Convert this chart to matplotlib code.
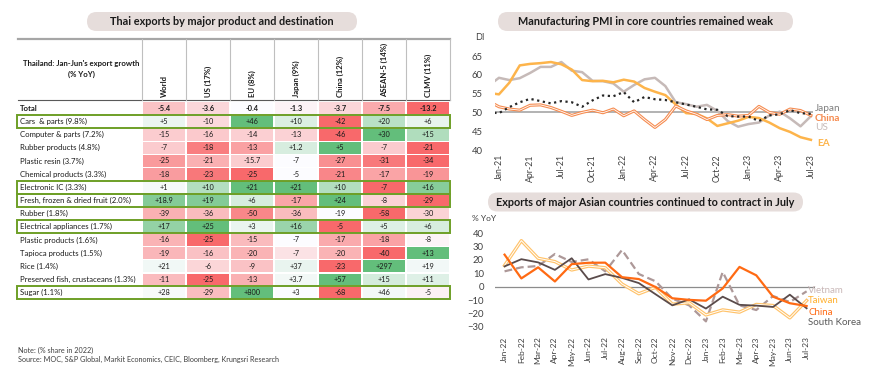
import numpy as np
import pandas as pd
import matplotlib
matplotlib.use("Agg")
import matplotlib.pyplot as plt
from matplotlib.patches import FancyBboxPatch, Rectangle

plt.rcParams['font.family'] = ['Lato', 'DejaVu Sans']

W, H = 870, 379

# ---------------- data: Thai exports table ----------------
markets = ["World", "US (17%)", "EU (8%)", "Japan (9%)", "China (12%)", "ASEAN-5 (14%)", "CLMV (11%)"]
products = ["Total", "Cars  & parts (9.8%)", "Computer & parts (7.2%)", "Rubber products (4.8%)",
            "Plastic resin (3.7%)", "Chemical products (3.3%)", "Electronic IC (3.3%)",
            "Fresh, frozen & dried fruit (2.0%)", "Rubber (1.8%)", "Electrical appliances (1.7%)",
            "Plastic products (1.6%)", "Tapioca products (1.5%)", "Rice (1.4%)",
            "Preserved fish, crustaceans (1.3%)", "Sugar (1.1%)"]
growth = [
    [-5.4, -3.6, -0.4, -1.3, -3.7, -7.5, -13.2],
    [5, -10, 46, 10, -42, 20, 6],
    [-15, -16, -14, -13, -46, 30, 15],
    [-7, -18, -13, 1.2, 5, -7, -21],
    [-25, -21, -15.7, -7, -27, -31, -34],
    [-18, -23, -25, -5, -21, -17, -19],
    [1, 10, 21, 21, 10, -7, 16],
    [18.9, 19, 6, -17, 24, -8, -29],
    [-39, -36, -50, -36, -19, -58, -30],
    [17, 25, 3, 16, -5, 5, 6],
    [-16, -25, -15, -7, -17, -18, -8],
    [-19, -16, -20, -7, -20, -40, 13],
    [21, -6, -9, 37, -23, 297, 19],
    [-11, -25, -13, 3.7, 57, 15, 11],
    [28, -29, 800, 3, -68, 46, -5],
]
boxed = ["Cars  & parts (9.8%)", "Electronic IC (3.3%)", "Fresh, frozen & dried fruit (2.0%)",
         "Electrical appliances (1.7%)", "Sugar (1.1%)"]

# ---------------- data: PMI (Dec-20 .. Jul-23) ----------------
pmi_months = pd.date_range("2020-12-01", "2023-07-01", freq="MS").strftime("%b-%y").tolist()
pmi_us = [57.1, 59.2, 58.6, 59.1, 60.5, 62.1, 62.1, 63.4, 61.1, 60.7, 58.4, 58.3, 57.7,
          55.5, 57.3, 58.8, 59.2, 57.0, 52.7, 52.2, 51.5, 52.0, 50.4, 47.7, 46.2,
          46.9, 47.3, 49.2, 50.2, 48.4, 46.3, 49.0]
pmi_ea = [55.2, 54.8, 57.9, 62.5, 62.9, 63.1, 63.4, 62.8, 61.4, 58.6, 58.3, 58.4, 58.0,
          58.7, 58.2, 56.5, 55.5, 54.6, 52.1, 49.8, 49.6, 48.4, 46.4, 47.1, 47.8,
          48.8, 48.5, 47.3, 45.8, 44.8, 43.4, 42.7]
pmi_china = [53.0, 51.5, 50.9, 50.6, 51.9, 52.0, 51.3, 50.3, 49.2, 50.0, 50.6, 49.9, 50.9,
             49.1, 50.4, 48.1, 46.0, 48.1, 51.7, 50.4, 49.5, 48.1, 49.2, 49.4, 49.0,
             49.2, 51.6, 50.0, 49.5, 50.9, 50.5, 49.2]
pmi_japan = [50.0, 49.8, 51.4, 52.7, 53.6, 53.0, 52.4, 53.0, 52.7, 51.5, 53.2, 54.5, 54.3,
             55.4, 52.7, 54.1, 53.5, 53.3, 52.7, 52.1, 51.5, 50.8, 50.7, 49.0, 48.9,
             48.9, 47.7, 49.2, 49.5, 50.6, 49.8, 49.6]
pmi_ticks = ["Jan-21", "Apr-21", "Jul-21", "Oct-21", "Jan-22", "Apr-22", "Jul-22",
             "Oct-22", "Jan-23", "Apr-23", "Jul-23"]

# ---------------- data: Asian exports (Jan-22 .. Jul-23) ----------------
exp_months = ["Jan-22", "Feb-22", "Mar-22", "Apr-22", "May-22", "Jun-22", "Jul-22", "Aug-22",
              "Sep-22", "Oct-22", "Nov-22", "Dec-22", "Jan-23", "Feb-23", "Mar-23", "Apr-23",
              "May-23", "Jun-23", "Jul-23"]
exp_taiwan = [15.9, 34.5, 21.3, 18.8, 12.5, 15.4, 14.2, 2.0, -5.3, -0.5, -13.1, -12.1,
              -21.2, -17.4, -19.1, -13.3, -14.1, -23.4, -10.4]
exp_china = [24.0, 6.2, 14.5, 3.9, 16.9, 17.9, 18.0, 7.1, 5.7, -0.3, -8.7, -9.9,
             -10.5, -1.3, 14.8, 8.5, -7.5, -12.4, -14.5]
exp_korea = [15.2, 20.6, 18.2, 12.6, 21.3, 5.4, 9.4, 6.6, 2.7, -5.7, -14.0, -9.5,
             -16.4, -7.5, -13.6, -14.2, -15.2, -6.0, -16.2]
exp_vietnam = [11.5, 14.5, 15.5, 24.5, 18.5, 20.5, 11.5, 27.5, 9.5, 4.0, -9.0, -14.0,
               -26.0, 11.0, -14.0, -17.5, -7.0, -11.5, -3.5]

# ---------------- helpers ----------------
RED = np.array([248, 105, 107]) / 255
WHITE = np.array([252, 252, 255]) / 255
GREEN = np.array([99, 190, 123]) / 255


def cell_colour(v, row):
    # Excel-like 3 colour scale per row: min red, 0 (or row max) white, max green
    lo, hi = min(row), max(row)
    mid = 0 if hi > 0 else hi
    if v > mid:
        return WHITE + (v - mid) / (hi - mid) * (GREEN - WHITE)
    if v < mid:
        return WHITE + (mid - v) / (mid - lo) * (RED - WHITE)
    return WHITE


fig = plt.figure(figsize=(W / 100, H / 100), dpi=100)
bg = fig.add_axes([0, 0, 1, 1])
bg.set_xlim(0, W)
bg.set_ylim(H, 0)
bg.axis('off')


def px_axes(x0, y0, x1, y1):
    return fig.add_axes([x0 / W, 1 - y1 / H, (x1 - x0) / W, (y1 - y0) / H])


def pill(cx, cy, w, h, text):
    bg.add_patch(FancyBboxPatch((cx - w / 2, cy - h / 2), w, h,
                                boxstyle=f"round,pad=0,rounding_size={h / 2}",
                                fc='#E6DDDB', ec='none'))
    bg.text(cx, cy, text, ha='center', va='center', fontsize=7.8, fontweight='bold', color='#1a1a1a')


# ---------------- table ----------------
pill(222, 21.5, 270, 19, "Thai exports by major product and destination")

X0, X1 = 18, 142
COL_W = 44
HEAD_TOP, HEAD_BOT = 39, 100
ROW_TOP, ROW_H = 101.7, 13.17
right = X1 + COL_W * len(markets)

bg.plot([X0, right], [HEAD_TOP, HEAD_TOP], color='#A6A6A6', lw=1.6)
bg.plot([X0, right], [HEAD_BOT, HEAD_BOT], color='#595959', lw=0.8)
for j, m in enumerate(markets):
    xl = X1 + j * COL_W
    bg.plot([xl, xl], [HEAD_TOP, HEAD_BOT], color='#BFBFBF', lw=0.8)
    bg.text(xl + COL_W / 2, HEAD_BOT - 3, m, rotation=90, ha='center', va='bottom',
            fontsize=5.6, fontweight='bold', color='#1a1a1a')
bg.plot([right, right], [HEAD_TOP, HEAD_BOT], color='#BFBFBF', lw=0.8)
bg.text((X0 + X1) / 2 + 1, 69, "Thailand: Jan-Jun's export growth\n(% YoY)", ha='center', va='center',
        fontsize=5.6, fontweight='bold', color='#1a1a1a', linespacing=1.5)

for i, (name, row) in enumerate(zip(products, growth)):
    top = ROW_TOP + i * ROW_H
    cy = top + ROW_H / 2
    weight = 'bold' if i == 0 else 'normal'
    bg.text(X0 + 2, cy, name, ha='left', va='center', fontsize=5.6, fontweight=weight, color='#1a1a1a')
    for j, v in enumerate(row):
        xl = X1 + j * COL_W
        bg.add_patch(Rectangle((xl + 0.7, top + 0.7), COL_W - 1.4, ROW_H - 1.4,
                               fc=cell_colour(v, row), ec='none'))
        txt = f"{v:+g}" if i > 0 else f"{v:g}"
        bg.text(xl + COL_W / 2, cy, txt, ha='center', va='center', fontsize=5.3,
                fontweight=weight, color='#1a1a1a')
    if name in boxed:
        bg.add_patch(Rectangle((X0 - 0.5, top), right - X0 + 1, ROW_H,
                               fc='none', ec='#6E9F27', lw=1.4, zorder=5))

bg.text(X0, 350, "Note: (% share in 2022)", fontsize=5.2, color='#404040', va='center')
bg.text(X0, 359.5, "Source: MOC, S&P Global, Markit Economics, CEIC, Bloomberg, Krungsri Research",
        fontsize=5.2, color='#404040', va='center')

# ---------------- PMI chart ----------------
pill(645.5, 21.5, 295, 19, "Manufacturing PMI in core countries remained weak")
ax1 = px_axes(495, 56, 813, 150)
x = np.arange(len(pmi_months))
ax1.axhline(50, color='#A6A6A6', lw=1.2)
ax1.plot(x, pmi_us, color='#C6BAB8', lw=1.8)
ax1.plot(x, pmi_ea, color='#FDB44B', lw=1.8)
ax1.plot(x, pmi_china, color='#F68B4F', lw=2.2)
ax1.plot(x, pmi_china, color='white', lw=0.6)
ax1.plot(x, pmi_japan, color='#262626', lw=1.6, ls=(0, (1, 1.6)))
ax1.set_xlim(0.62, 31.2)
ax1.set_ylim(40, 65)
ax1.set_yticks(range(40, 66, 5))
ax1.set_xticks([pmi_months.index(t) for t in pmi_ticks])
ax1.set_xticklabels(pmi_ticks, rotation=90)
ax1.tick_params(length=0, labelsize=6.8, colors='#404040')
ax1.tick_params(axis='x', labelsize=6.3, pad=3)
ax1.tick_params(axis='y', pad=9)
for s in ax1.spines.values():
    s.set_visible(False)
ax1.patch.set_alpha(0)
ax1.text(31.4, 51.0, "Japan", color='#7F7F7F', fontsize=7.2, va='center', clip_on=False)
ax1.text(31.4, 48.3, "China", color='#F68B4F', fontsize=7.2, fontweight='bold', va='center', clip_on=False)
ax1.text(31.4, 46.1, "US", color='#C6BAB8', fontsize=7.2, va='center', clip_on=False)
ax1.text(31.6, 41.7, "EA", color='#FDB44B', fontsize=7.2, fontweight='bold', va='center', clip_on=False)
bg.text(475, 38, "DI", fontsize=6.5, color='#404040', va='center')

# ---------------- Asian exports chart ----------------
pill(645.5, 202, 315, 19, "Exports of major Asian countries continued to contract in July")
ax2 = px_axes(495, 233.3, 815, 326.7)
x2 = np.arange(len(exp_months))
ax2.axhline(0, color='#8C8C8C', lw=0.9)
ax2.plot(x2, exp_vietnam, color='#AD9898', lw=1.6, ls=(0, (3.5, 1.8)))
ax2.plot(x2, exp_taiwan, color='#FFC36B', lw=2.4)
ax2.plot(x2, exp_taiwan, color='white', lw=0.7)
ax2.plot(x2, exp_korea, color='#5A4B4B', lw=1.3)
ax2.plot(x2, exp_china, color='#FF6A13', lw=1.6)
ax2.set_xlim(-0.57, 18.5)
ax2.set_ylim(-30, 40)
ax2.set_yticks(range(-30, 41, 10))
ax2.set_xticks(x2)
ax2.set_xticklabels(exp_months, rotation=90)
ax2.tick_params(length=0, labelsize=6.8, colors='#404040')
ax2.tick_params(axis='x', labelsize=6.0, pad=7)
ax2.tick_params(axis='y', pad=8)
for s in ax2.spines.values():
    s.set_visible(False)
ax2.patch.set_alpha(0)
ax2.text(18.1, -3.0, "Vietnam", color='#C9B8B8', fontsize=7.0, va='center', clip_on=False)
ax2.text(18.1, -10.7, "Taiwan", color='#FFB02E', fontsize=7.0, va='center', clip_on=False)
ax2.text(18.1, -19.0, "China", color='#FF6A13', fontsize=7.0, va='center', clip_on=False)
ax2.text(18.1, -27.0, "South Korea", color='#595959', fontsize=7.0, va='center', clip_on=False)
bg.text(472, 218.3, "% YoY", fontsize=6.0, color='#404040', va='center')

fig.savefig("out.png", dpi=100)
